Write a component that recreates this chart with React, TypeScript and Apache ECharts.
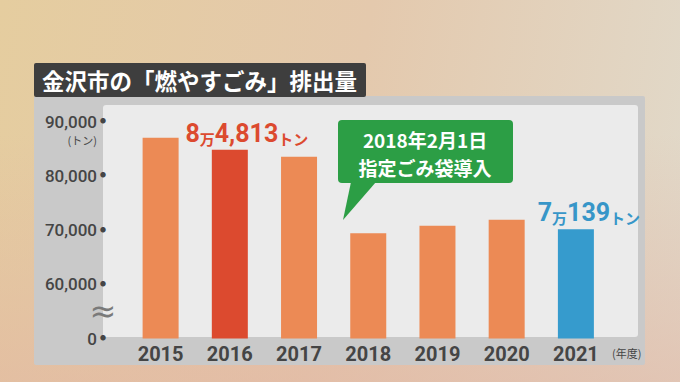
import React, { useEffect, useRef } from "react";
import * as echarts from "echarts";

const years = ["2015", "2016", "2017", "2018", "2019", "2020", "2021"];
const amounts = [87000, 84813, 83500, 69400, 70800, 71900, 70139];
const barColors = ["#ec8a55", "#dc4a2f", "#ec8a55", "#ec8a55", "#ec8a55", "#ec8a55", "#369bcd"];
const yTicks = [50000, 60000, 70000, 80000, 90000];
const yTickLabels = ["0", "60,000", "70,000", "80,000", "90,000"];
const title = "金沢市の「燃やすごみ」排出量";
const calloutLines = ["2018年2月1日", "指定ごみ袋導入"];

const CJK = '"Noto Sans CJK JP", "Noto Sans", sans-serif';
const NUM = 'Roboto, "Noto Sans CJK JP", sans-serif';

export default function App() {
  const ref = useRef<HTMLDivElement>(null);
  useEffect(() => {
    if (!ref.current) return;
    const chart = echarts.init(ref.current, null, { renderer: "svg" });
    const bigRich = (color: string) => ({
      a: { fontFamily: NUM, fontSize: 25, fontWeight: "bold", color, verticalAlign: "bottom", lineHeight: 28 },
      m: { fontFamily: CJK, fontSize: 15, fontWeight: "bold", color, verticalAlign: "bottom", lineHeight: 24 },
      t: { fontFamily: CJK, fontSize: 15, fontWeight: "bold", color, verticalAlign: "bottom", lineHeight: 24 },
    });
    const data = amounts.map((v, i) => {
      const item: any = { value: v, itemStyle: { color: barColors[i] } };
      if (i === 1) {
        item.label = {
          show: true,
          position: "top",
          distance: 4,
          offset: [17, 0],
          formatter: "{a|8}{m|万}{a|4,813}{t|トン}",
          rich: bigRich("#dc4a2f"),
        };
      }
      if (i === 6) {
        item.label = {
          show: true,
          position: "top",
          distance: 4,
          offset: [13, 0],
          formatter: "{a|7}{m|万}{a|139}{t|トン}",
          rich: bigRich("#3796c8"),
        };
      }
      return item;
    });
    chart.setOption({
      animation: false,
      grid: { left: 126, right: 69.5, top: 121.5, bottom: 43.5 },
      xAxis: {
        type: "category",
        data: years,
        axisLine: { show: false },
        axisTick: { show: false },
        axisLabel: {
          margin: 5,
          fontFamily: NUM,
          fontSize: 20,
          fontWeight: "bold",
          color: "#454545",
        },
      },
      yAxis: {
        type: "value",
        min: 50000,
        max: 90000,
        interval: 10000,
        splitLine: { show: false },
        axisLine: { show: false },
        axisTick: { show: false },
        axisLabel: {
          margin: 20,
          formatter: (v: number) => {
            const i = yTicks.indexOf(v);
            return `{v|${i >= 0 ? yTickLabels[i] : ""}}{d|●}`;
          },
          rich: {
            v: { fontFamily: NUM, fontSize: 17, fontWeight: 500, color: "#454545" },
            d: { fontFamily: CJK, fontSize: 6, color: "#454545", padding: [0, 0, 2, 3] },
          },
        },
      },
      graphic: [
        { type: "rect", z: 0, shape: { x: 34, y: 96, width: 611, height: 269, r: 2 }, style: { fill: "#c9c9c9" } },
        { type: "rect", z: 0, shape: { x: 103, y: 105, width: 535, height: 232, r: 3 }, style: { fill: "#ebebeb" } },
        { type: "rect", z: 1, shape: { x: 34, y: 63, width: 332, height: 34, r: 2 }, style: { fill: "#3e3e3e" } },
        {
          type: "text", z: 2, x: 42, y: 80,
          style: { text: title, fill: "#ffffff", font: `bold 22.5px ${CJK}`, verticalAlign: "middle" },
        },
        {
          type: "text", z: 2, x: 97, y: 140,
          style: { text: "(トン)", fill: "#454545", font: `11px ${CJK}`, align: "right", verticalAlign: "middle" },
        },
        {
          type: "text", z: 2, x: 103, y: 311,
          style: { text: "≈", fill: "#7a7a7a", font: `32px "DejaVu Sans", sans-serif`, align: "center", verticalAlign: "middle" },
        },
        {
          type: "text", z: 2, x: 612, y: 353,
          style: { text: "(年度)", fill: "#454545", font: `11px ${CJK}`, verticalAlign: "middle" },
        },
        { type: "rect", z: 10, shape: { x: 338, y: 120, width: 175, height: 63, r: 4 }, style: { fill: "#2c9e45" } },
        {
          type: "polygon", z: 10,
          shape: { points: [[351, 182], [376, 182], [343, 220]] },
          style: { fill: "#2c9e45" },
        },
        {
          type: "text", z: 11, x: 425, y: 139,
          style: {
            text: calloutLines[0],
            fill: "#ffffff",
            font: `bold 19px ${CJK}`,
            align: "center",
            verticalAlign: "middle",
          },
        },
        {
          type: "text", z: 11, x: 425, y: 167,
          style: {
            text: calloutLines[1],
            fill: "#ffffff",
            font: `bold 19px ${CJK}`,
            align: "center",
            verticalAlign: "middle",
          },
        },
      ],
      series: [
        {
          type: "bar",
          data,
          barWidth: 36,
          z: 3,
        },
      ],
    });
    return () => chart.dispose();
  }, []);
  return (
    <div
      style={{
        position: "fixed",
        left: 0,
        top: 0,
        width: 680,
        height: 382,
        background:
          "linear-gradient(to bottom, rgba(226,178,160,0) 35%, rgba(226,180,162,0.55) 100%), linear-gradient(100deg, #e5cd9f 0%, #e4c9ad 50%, #e1dacb 100%)",
      }}
    >
      <div ref={ref} style={{ width: 680, height: 382 }} />
    </div>
  );
}
